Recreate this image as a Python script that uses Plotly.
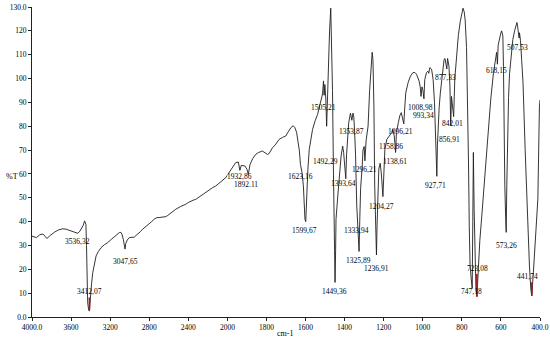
import numpy as np
import plotly.graph_objects as go

# ---------------- data ----------------
wavenumber = [
    4000, 3980, 3955, 3920, 3888, 3865, 3847, 3820, 3790, 3769, 3730, 3700, 3684, 3650, 3616,
    3580, 3550, 3531, 3510, 3490, 3475, 3462, 3455, 3448, 3442, 3438, 3430, 3420, 3413, 3408,
    3402, 3390, 3378, 3360, 3344, 3320, 3293, 3260, 3225, 3190, 3157, 3130, 3106, 3090, 3079,
    3065, 3055, 3048, 3040, 3025, 3004, 2980, 2953, 2935, 2919, 2890, 2868, 2835, 2800, 2775,
    2749, 2720, 2698, 2660, 2630, 2610, 2596, 2560, 2528, 2480, 2450, 2426, 2400, 2375, 2350,
    2324, 2280, 2250, 2222, 2180, 2150, 2120, 2080, 2050, 2018, 2000,
    1980, 1958, 1944, 1936, 1929, 1910, 1900, 1893, 1884, 1870, 1855, 1840, 1821, 1805, 1795,
    1787, 1769, 1752, 1735, 1718, 1701, 1690, 1675, 1663, 1655, 1646, 1638, 1632, 1626, 1623,
    1618, 1611, 1606, 1603, 1599, 1595, 1588, 1581, 1572, 1564, 1550, 1538, 1528, 1521, 1513,
    1508, 1505, 1501, 1496, 1492, 1489, 1484, 1477, 1471, 1467, 1462, 1457, 1452, 1449, 1446,
    1444, 1435, 1427, 1418, 1410, 1405, 1398, 1394, 1390, 1385, 1379, 1370, 1363, 1357, 1353,
    1349, 1344, 1338, 1334, 1330, 1326, 1322, 1318, 1310, 1306, 1300, 1296, 1290, 1280, 1272,
    1265, 1259, 1255, 1250, 1246, 1242, 1237, 1234, 1230, 1225, 1218, 1212, 1204, 1200, 1194,
    1184, 1173, 1166, 1159, 1153, 1146, 1139, 1135, 1125, 1118, 1110, 1104, 1097, 1092, 1087,
    1075, 1063, 1050, 1040, 1032, 1019, 1013, 1009, 1004, 999, 994, 990, 981, 974, 969,
    964, 955, 947, 940, 935, 930, 928, 925, 920, 916, 910, 904, 896, 891, 886,
    881, 877, 873, 866, 861, 858, 857, 853, 849, 842, 836, 828, 818, 808, 800,
    794, 788, 783, 776, 771, 766, 762, 758, 752, 747, 744, 741, 737, 733, 728,
    723, 719, 716, 708, 698, 690, 681, 672, 664, 652, 638, 628, 622, 618, 614,
    604, 597, 593, 590, 587, 584, 580, 576, 573, 570, 566, 561, 556, 549, 539,
    530, 522, 518, 514, 510, 507, 505, 500, 494, 487, 476, 464, 454, 447, 442,
    434, 420, 411, 403, 400,
]
transmittance = [
    33.9, 33.5, 33.3, 34.5, 34.8, 33.8, 32.9, 34.0, 35.0, 35.6, 36.5, 37.0, 37.0, 36.8, 36.3,
    35.6, 35.2, 35.1, 36.0, 37.3, 38.5, 40.3, 39.5, 38.9, 30.0, 15.0, 6.0, 3.0, 2.5, 5.0,
    8.8, 14.0, 18.6, 22.5, 25.6, 27.5, 29.1, 30.3, 31.2, 32.5, 33.7, 34.5, 35.4, 35.5, 34.7,
    32.5, 29.5, 28.5, 30.8, 32.3, 33.3, 33.4, 33.5, 34.2, 34.7, 35.8, 36.8, 37.8, 38.9, 40.0,
    41.0, 41.7, 41.7, 41.9, 42.1, 42.6, 43.1, 44.2, 45.2, 46.3, 46.8, 47.3, 48.0, 48.6, 49.0,
    49.3, 50.6, 51.5, 52.2, 53.5, 54.3, 54.9, 56.3, 57.5, 58.4, 59.5,
    62.0, 64.7, 65.0, 61.5, 63.6, 63.3, 62.0, 59.8, 64.0, 66.5, 68.2, 69.0, 69.6, 68.8, 68.2,
    68.5, 71.0, 72.5, 74.5, 75.3, 75.9, 77.5, 79.4, 80.2, 79.5, 77.5, 74.0, 70.0, 64.0, 62.5,
    60.5, 55.0, 45.0, 41.0, 40.0, 50.5, 62.0, 70.3, 75.0, 78.7, 82.5, 85.0, 88.5, 91.0, 93.5,
    99.0, 93.0, 97.5, 91.0, 80.0, 90.0, 105.0, 120.0, 129.5, 118.0, 95.0, 60.0, 30.0, 14.5, 28.0,
    41.0, 50.7, 60.5, 67.5, 71.7, 69.0, 62.0, 58.0, 68.0, 76.0, 81.5, 85.5, 82.5, 85.5, 84.0,
    78.0, 68.0, 47.0, 38.0, 31.0, 27.5, 42.0, 54.0, 63.3, 70.0, 71.5, 65.5, 74.0, 80.0, 95.0,
    105.0, 111.0, 108.0, 88.0, 55.0, 35.0, 26.0, 38.0, 55.0, 62.0, 64.5, 60.0, 50.5, 62.0, 70.3,
    74.5, 75.9, 76.6, 77.3, 78.7, 76.0, 69.0, 77.3, 81.5, 84.3, 85.7, 84.0, 81.0, 88.0, 94.1,
    98.3, 101.0, 102.5, 102.5, 101.8, 99.0, 96.5, 92.5, 96.5, 95.0, 91.5, 99.5, 102.5, 103.1, 102.2,
    104.6, 103.9, 99.7, 90.0, 76.0, 62.0, 59.0, 72.0, 82.0, 88.0, 94.0, 98.3, 105.2, 108.0, 108.4,
    106.0, 104.0, 108.4, 105.2, 97.0, 87.0, 80.5, 92.5, 90.0, 84.0, 100.0, 110.0, 118.0, 124.0, 128.0,
    129.5, 128.0, 124.5, 113.0, 92.0, 65.0, 38.0, 22.0, 16.0, 12.0, 40.0, 69.0, 45.0, 25.0, 12.0,
    8.5, 15.0, 21.4, 32.0, 42.3, 51.0, 60.5, 70.0, 80.0, 91.3, 102.5, 109.5, 111.0, 106.0, 114.0,
    117.8, 120.0, 119.0, 117.8, 105.0, 77.0, 55.0, 42.0, 35.5, 55.0, 75.0, 92.0, 102.0, 109.4, 116.4,
    120.0, 122.5, 123.5, 121.5, 118.0, 117.0, 119.2, 116.0, 108.0, 98.3, 70.3, 42.3, 21.4, 11.6, 8.8,
    18.6, 35.4, 49.4, 88.0, 91.0,
]

peak_wn = [3536.32, 3412.07, 3047.65, 1932.86, 1892.11, 1623.16, 1599.67, 1505.21, 1492.29,
           1449.36, 1393.64, 1353.87, 1333.94, 1325.89, 1296.21, 1236.91, 1204.27, 1158.86,
           1138.61, 1096.21, 1008.98, 993.34, 927.71, 877.33, 856.91, 842.01, 747.18, 723.08,
           618.15, 573.26, 507.53, 441.74]
peak_text = ["3536,32", "3412,07", "3047,65", "1932,86", "1892.11", "1623,16", "1599,67",
             "1505,21", "1492,29", "1449,36", "1393,64", "1353,87", "1333,94", "1325,89",
             "1296,21", "1236,91", "1204,27", "1158,86", "1138,61", "1096,21", "1008,98",
             "993,34", "927,71", "877,33", "856,91", "842,01", "747,18", "723,08", "618,15",
             "573,26", "507,53", "441,74"]
marked_peaks = ["3412,07", "723,08", "441,74"]

y_ticks = list(range(0, 131, 10))
y_ticktext = ["0.0"] + [str(v) for v in range(10, 130, 10)] + ["130.0"]
x1_ticks = [4000, 3600, 3200, 2800, 2400, 2000]
x1_ticktext = ["4000.0", "3600", "3200", "2800", "2400", "2000"]
x2_ticks = [1800, 1600, 1400, 1200, 1000, 800, 600, 400]
x2_ticktext = ["1800", "1600", "1400", "1200", "1000", "800", "600", "400.0"]

# ---------------- layout helpers (label placement, not data) ----------------
label_y = [31.7, 10.7, 23.4, 58.9, 55.6, 58.9, 36.3, 87.8, 65.3, 10.8, 56.1, 78.0, 36.3,
           23.9, 61.9, 20.5, 46.4, 71.7, 65.4, 78.0, 87.8, 84.3, 55.3, 100.6, 74.5, 81.2,
           10.9, 20.5, 103.4, 30.1, 113.1, 17.1]
label_dx = [0, 0, 0, -1, -2, -1, -1, -1, -1, 0, -2, -2, -1, -1, 0, 0, -1, -1, -1, -3, -1,
            -1, -1, -1, -1, -1, -1, 1, -1, 0, -1, -4]

FONT = "Liberation Serif, Times New Roman, serif"
LINE = "#1e1e1e"
TXT = "#000000"

W, H = 550, 341
ML, MR, MT, MB = 32, 10, 7, 24
pw, ph = W - ML - MR, H - MT - MB

wn = np.array(wavenumber, dtype=float)
tr = np.array(transmittance, dtype=float)
m1 = wn >= 2000
m2 = wn <= 2000

fig = go.Figure()
fig.add_trace(go.Scatter(x=wn[m1], y=tr[m1], mode="lines", xaxis="x", yaxis="y",
                         line=dict(color=LINE, width=0.9), hoverinfo="skip", showlegend=False))
fig.add_trace(go.Scatter(x=wn[m2], y=tr[m2], mode="lines", xaxis="x2", yaxis="y",
                         line=dict(color=LINE, width=0.9), hoverinfo="skip", showlegend=False))

# red peak markers
for name in marked_peaks:
    i = peak_text.index(name)
    w = peak_wn[i]
    v = float(np.interp(-w, -wn, tr))
    ax = "x" if w > 2000 else "x2"
    fig.add_trace(go.Scatter(x=[w, w], y=[v, label_y[i] - 2.5], mode="lines", xaxis=ax, yaxis="y",
                             line=dict(color="#a01818", width=1.6), hoverinfo="skip",
                             showlegend=False))

annotations = []
for w, t, ly, dx in zip(peak_wn, peak_text, label_y, label_dx):
    annotations.append(dict(x=w, y=ly, xref="x" if w > 2000 else "x2", yref="y", text=t,
                            showarrow=False, xshift=dx, xanchor="center", yanchor="middle",
                            opacity=0.98,
                            font=dict(family=FONT, size=7.5, color=TXT)))
annotations.append(dict(x=(12 - ML) / pw, y=(H - MB - 176) / ph, xref="paper", yref="paper",
                        text="%T", showarrow=False, xanchor="center", yanchor="middle",
                        font=dict(family=FONT, size=8, color=TXT)))
annotations.append(dict(x=(285 - ML) / pw, y=(H - MB - 333) / ph, xref="paper", yref="paper",
                        text="cm-1", showarrow=False, xanchor="center", yanchor="middle",
                        font=dict(family=FONT, size=8, color=TXT)))

axis_common = dict(showline=True, linecolor="#222", linewidth=1, ticks="outside", ticklen=3,
                   tickcolor="#222", tickwidth=1, showgrid=False, zeroline=False,
                   automargin=False, ticklabeloverflow="allow",
                   tickfont=dict(family=FONT, size=7.5, color=TXT))
split = 5 / 13
fig.update_layout(
    template="none",
    width=W, height=H, margin=dict(l=ML, r=MR, t=MT, b=MB, autoexpand=False),
    paper_bgcolor="white", plot_bgcolor="white",
    xaxis=dict(domain=[0, split], range=[4000, 2000], tickvals=x1_ticks, ticktext=x1_ticktext,
               anchor="y", **axis_common),
    xaxis2=dict(domain=[split, 1], range=[2000, 400], tickvals=x2_ticks, ticktext=x2_ticktext,
                anchor="y", **axis_common),
    yaxis=dict(range=[0, 130], tickvals=y_ticks, ticktext=y_ticktext, anchor="x",
               **axis_common),
    annotations=annotations,
)

# remove the browser's default 8px page margin so the figure sits at the window origin
fig.write_html("out.html", config={"displayModeBar": False},
               post_script="document.body.style.margin='0';")
